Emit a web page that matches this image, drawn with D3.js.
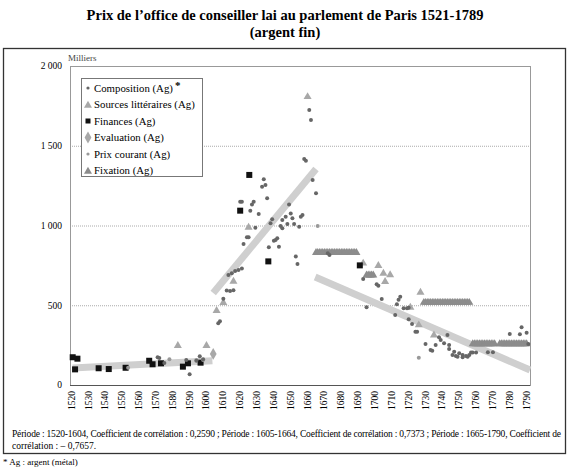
<!DOCTYPE html>
<html>
<head>
<meta charset="utf-8">
<script src="https://cdn.jsdelivr.net/npm/d3@7"></script>
<style>
  body { margin: 0; background: #fff; }
</style>
</head>
<body>
<div id="chart"></div>
<script>
// Data (year, thousands of livres in silver)
var composition = [
  [1571,174],[1572,170],[1575,138],[1588,157],[1590,67],[1594,152],[1596,180],[1598,161],
  [1607,387],[1608,399],[1610,540],[1612,593],[1614,590],[1616,594],
  [1613,690],[1615,700],[1617,715],[1619,721],[1621,731],
  [1620,1149],[1621,1149],[1622,884],[1624,926],[1625,926],
  [1626,1093],[1627,1132],[1628,1149],[1629,986],[1631,1072],
  [1633,1243],[1634,1290],[1635,1254],[1636,1171],
  [1637,863],[1638,1014],[1639,1039],[1640,905],[1641,909],[1642,920],[1643,867],
  [1644,997],[1645,982],[1645,1034],[1647,1055],[1648,1009],[1649,1132],[1650,1076],
  [1651,1045],[1652,1009],[1653,805],[1654,759],[1655,992],[1656,1055],[1657,1066],
  [1658,1417],[1659,1406],[1661,1724],[1662,1661],[1663,1285],[1665,1202],
  [1672,826],[1673,815],
  [1693,665],[1695,487],[1701,631],[1702,623],[1704,539],[1712,439],[1713,506],[1714,535],[1715,554],
  [1717,481],[1719,481],[1720,485],[1720,412],[1722,382],[1724,334],[1725,334],
  [1730,257],[1733,219],[1734,215],[1736,251],[1738,299],[1739,282],[1741,261],[1743,313],
  [1744,251],[1744,226],[1746,188],[1747,209],[1748,182],[1749,177],[1750,199],[1752,188],
  [1752,174],[1754,182],[1755,177],[1756,188],[1757,203],[1758,203],[1760,203],
  [1767,205],[1770,205],[1780,320],[1786,318],[1787,362],[1790,328],[1791,257]
];
var sourcesLitteraires = [
  [1583,246],[1600,246],[1606,466],[1610,516],[1616,650],[1625,988],[1660,1807],
  [1693,763],[1702,748],[1705,700],[1706,648],[1709,690],[1721,487],[1726,376],[1727,581],[1735,313]
];
var finances = [
  [1520.6,174],[1523.4,165],[1522,98],[1536,105],[1542,100],[1552,108],[1566,152],[1568,130],
  [1573,136],[1586,115],[1589,136],[1596.5,140],[1620,1093],[1625.4,1317],[1636.7,775],[1691,750]
];
var evaluation = [[1604,195]];
var prixCourant = [
  [1553.5,108],[1578,161],[1594,157],[1598,157],[1666,997],[1726,171]
];
var fixation = [
  [1665,830],[1666,830],[1667,830],[1668,830],[1669,830],[1670,830],[1671,830],[1672,830],
  [1673,830],[1674,830],[1675,830],[1676,830],[1677,830],[1678,830],[1679,830],[1680,830],
  [1681,830],[1682,830],[1683,830],[1684,830],[1685,830],[1686,830],[1687,830],[1688,830],[1689,830],
  [1695,688],[1696,688],[1697,688],[1698,688],[1699,688],
  [1729,517],[1730,517],[1731,517],[1732,517],[1733,517],[1734,517],[1735,517],[1736,517],
  [1737,517],[1738,517],[1739,517],[1740,517],[1741,517],[1742,517],[1743,517],[1744,517],
  [1745,517],[1746,517],[1747,517],[1748,517],[1749,517],[1750,517],[1751,517],[1752,517],
  [1753,517],[1754,517],[1755,517],[1756,517],
  [1758,257],[1759,257],[1760,257],[1761,257],[1762,257],[1763,257],[1764,257],[1765,257],
  [1766,257],[1767,257],[1768,257],[1769,257],[1770,257],[1771,257],
  [1774,257],[1775,257],[1776,257],[1777,257],[1778,257],[1779,257],[1780,257],[1781,257],
  [1782,257],[1783,257],[1784,257],[1785,257],[1786,257],[1787,257],[1788,257],[1789,257],[1790,257]
];
// Trend lines per period: [start year, value], [end year, value]
var trends = [
  [[1520.5,107],[1603.5,152]],
  [[1604,577],[1665,1354]],
  [[1664.5,677],[1792,94]]
];
var yTicks = [0, 500, 1000, 1500, 2000];
var yTickLabels = ["0", "500", "1 000", "1 500", "2 000"];
var xTicks = [1520,1530,1540,1550,1560,1570,1580,1590,1600,1610,1620,1630,1640,1650,1660,
              1670,1680,1690,1700,1710,1720,1730,1740,1750,1760,1770,1780,1790];
var legendLabels = ["Composition (Ag)", "Sources littéraires (Ag)", "Finances (Ag)",
                    "Evaluation (Ag)", "Prix courant (Ag)", "Fixation (Ag)"];

// Parameters
var width = 569,
    height = 470,
    plotLeft = 70, plotRight = 530, plotTop = 66, plotBottom = 385,
    serif = "'Liberation Serif', 'Times New Roman', serif";

var svg = d3.select("#chart").append("svg")
    .attr("width", width)
    .attr("height", height)
    .attr("font-family", serif)
    .style("font-family", serif);

var x = d3.scaleLinear().domain([1519, 1792]).range([plotLeft, plotRight]);
var y = d3.scaleLinear().domain([0, 2000]).range([plotBottom, plotTop]);

// Title
svg.append("text")
    .attr("x", 285).attr("y", 20)
    .attr("text-anchor", "middle")
    .style("font-size", "14.5px").style("font-weight", "bold")
    .text("Prix de l\u2019office de conseiller lai au parlement de Paris 1521-1789");
svg.append("text")
    .attr("x", 285).attr("y", 37)
    .attr("text-anchor", "middle")
    .style("font-size", "14.5px").style("font-weight", "bold")
    .text("(argent fin)");

// Outer frame
svg.append("rect")
    .attr("x", 3.5).attr("y", 48.5)
    .attr("width", 562).attr("height", 405)
    .style("fill", "none").style("stroke", "#333").style("stroke-width", 1.3);

svg.append("text")
    .attr("x", 68).attr("y", 61)
    .style("font-size", "9px").style("fill", "#444")
    .text("Milliers");

// Gridlines
svg.append("g").selectAll("line")
    .data(yTicks.filter(function(d) { return d > 0 && d < 2000; }))
    .enter().append("line")
      .attr("x1", plotLeft).attr("x2", plotRight)
      .attr("y1", function(d) { return y(d) + 0.5; })
      .attr("y2", function(d) { return y(d) + 0.5; })
      .style("stroke", "#aaa").style("stroke-width", 1)
      .style("stroke-dasharray", "1,1");

// Plot border
svg.append("rect")
    .attr("x", plotLeft + 0.5).attr("y", plotTop + 0.5)
    .attr("width", plotRight - plotLeft).attr("height", plotBottom - plotTop)
    .style("fill", "none").style("stroke", "#999").style("stroke-width", 1);
svg.append("line")
    .attr("x1", plotLeft).attr("x2", plotRight)
    .attr("y1", plotBottom + 0.5).attr("y2", plotBottom + 0.5)
    .style("stroke", "#555");

// Y axis labels
svg.append("g").selectAll("text")
    .data(yTicks)
    .enter().append("text")
      .attr("x", 62)
      .attr("y", function(d) { return y(d); })
      .attr("dy", "0.35em")
      .attr("text-anchor", "end")
      .style("font-size", "9.5px")
      .text(function(d, i) { return yTickLabels[i]; });

// X axis labels (rotated)
svg.append("g").selectAll("text")
    .data(xTicks)
    .enter().append("text")
      .attr("transform", function(d) { return "translate(" + (x(d) + 3) + "," + 391 + ") rotate(-90)"; })
      .attr("text-anchor", "end")
      .style("font-size", "9.5px")
      .text(function(d) { return d; });

// Trend lines
svg.append("g").selectAll("line")
    .data(trends)
    .enter().append("line")
      .attr("x1", function(d) { return x(d[0][0]); })
      .attr("y1", function(d) { return y(d[0][1]); })
      .attr("x2", function(d) { return x(d[1][0]); })
      .attr("y2", function(d) { return y(d[1][1]); })
      .style("stroke", "#cfcfcf").style("stroke-width", 7);

// Markers
var tri = d3.symbol().type(d3.symbolTriangle).size(28);
var dia = d3.symbol().type(d3.symbolDiamond).size(40);

function drawPaths(data, path, color) {
  svg.append("g").selectAll("path")
    .data(data)
    .enter().append("path")
      .attr("d", path)
      .attr("transform", function(d) { return "translate(" + x(d[0]) + "," + y(d[1]) + ")"; })
      .style("fill", color);
}

drawPaths(fixation, tri(), "#8c8c8c");
drawPaths(sourcesLitteraires, tri(), "#a8a8a8");
drawPaths(evaluation, dia(), "#a8a8a8");

svg.append("g").selectAll("rect")
    .data(finances)
    .enter().append("rect")
      .attr("x", function(d) { return x(d[0]) - 3; })
      .attr("y", function(d) { return y(d[1]) - 3; })
      .attr("width", 6).attr("height", 6)
      .style("fill", "#111");

svg.append("g").selectAll("circle")
    .data(prixCourant)
    .enter().append("circle")
      .attr("cx", function(d) { return x(d[0]); })
      .attr("cy", function(d) { return y(d[1]); })
      .attr("r", 2)
      .style("fill", "#999");

svg.append("g").selectAll("circle")
    .data(composition)
    .enter().append("circle")
      .attr("cx", function(d) { return x(d[0]); })
      .attr("cy", function(d) { return y(d[1]); })
      .attr("r", 2)
      .style("fill", "#666");

// Legend
var legend = svg.append("g").attr("class", "legend");
legend.append("rect")
    .attr("x", 81.5).attr("y", 78.5)
    .attr("width", 121).attr("height", 98)
    .style("fill", "#fff").style("stroke", "#777");

var legendItems = legend.selectAll("g.item")
    .data(legendLabels)
    .enter().append("g")
      .attr("class", "item")
      .attr("transform", function(d, i) { return "translate(88," + (88 + i * 16.5) + ")"; });

var legendText = legendItems.append("text")
    .attr("x", 6)
    .attr("dy", "0.35em")
    .style("font-size", "10.8px")
    .text(function(d) { return d; });

legendText.filter(function(d, i) { return i === 0; })
  .append("tspan")
    .attr("dx", 2).attr("dy", -3)
    .style("font-weight", "bold").style("font-size", "11px")
    .text("*");

legendItems.each(function(d, i) {
  var g = d3.select(this);
  if (i === 0) {
    g.append("circle").attr("r", 1.6).style("fill", "#666");
  } else if (i === 1) {
    g.append("path").attr("d", tri()).attr("transform", "translate(0,1)").style("fill", "#a8a8a8");
  } else if (i === 2) {
    g.append("rect").attr("x", -2.5).attr("y", -2.5).attr("width", 5).attr("height", 5).style("fill", "#111");
  } else if (i === 3) {
    g.append("path").attr("d", dia()).style("fill", "#a8a8a8");
  } else if (i === 4) {
    g.append("circle").attr("r", 1.6).style("fill", "#999");
  } else {
    g.append("path").attr("d", tri()).attr("transform", "translate(0,1)").style("fill", "#8c8c8c");
  }
});

// Notes
svg.append("text")
    .attr("x", 12).attr("y", 437)
    .attr("textLength", 549).attr("lengthAdjust", "spacing")
    .style("font-size", "9.5px")
    .text("Période : 1520-1604, Coefficient de corrélation : 0,2590 ; Période : 1605-1664, Coefficient de corrélation : 0,7373 ; Période : 1665-1790, Coefficient de");
svg.append("text")
    .attr("x", 12).attr("y", 449)
    .style("font-size", "9.5px")
    .text("corrélation : \u2013 0,7657.");
svg.append("text")
    .attr("x", 3).attr("y", 465)
    .style("font-size", "9px")
    .text("* Ag : argent (métal)");
</script>
</body>
</html>
